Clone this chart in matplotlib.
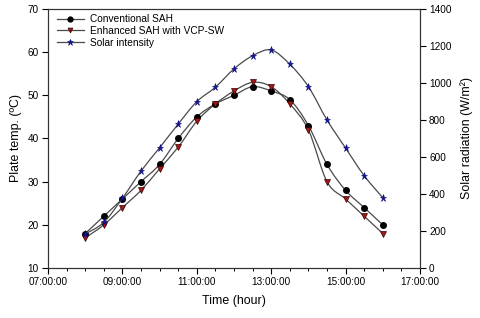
import numpy as np
import matplotlib
matplotlib.use('Agg')
import matplotlib.pyplot as plt
from matplotlib.path import Path
from matplotlib.patches import PathPatch
from matplotlib.lines import Line2D
from matplotlib.ticker import MultipleLocator, FixedLocator, FuncFormatter

plt.rcParams['font.family'] = ['Liberation Sans', 'DejaVu Sans']

# measurement times (every 30 min)
times = ["08:00", "08:30", "09:00", "09:30", "10:00", "10:30", "11:00", "11:30", "12:00",
         "12:30", "13:00", "13:30", "14:00", "14:30", "15:00", "15:30", "16:00"]
conv_sah = [18, 22, 26, 30, 34, 40, 45, 48, 50, 52, 51, 49, 43, 34, 28, 24, 20]
enh_sah = [17, 20, 24, 28, 33, 38, 44, 48, 51, 53, 52, 48, 42, 30, 26, 22, 18]
solar = [184, 247, 377, 524, 650, 778, 899, 977, 1076, 1147, 1178, 1101, 980, 800, 648, 499, 380]
xtick_hours = [7, 9, 11, 13, 15, 17]

hours = np.array([int(t[:2]) + int(t[3:]) / 60.0 for t in times])

LINE_COLOR = '#4a4a4a'


def smooth_path(x, y):
    # Catmull-Rom spline turned into cubic bezier segments (drawn by matplotlib's Path)
    x = np.asarray(x, float)
    y = np.asarray(y, float)
    verts = [(x[0], y[0])]
    codes = [Path.MOVETO]
    n = len(x)
    for i in range(n - 1):
        x0, y0 = (x[i - 1], y[i - 1]) if i > 0 else (x[i], y[i])
        x3, y3 = (x[i + 2], y[i + 2]) if i + 2 < n else (x[i + 1], y[i + 1])
        c1 = (x[i] + (x[i + 1] - x0) / 6.0, y[i] + (y[i + 1] - y0) / 6.0)
        c2 = (x[i + 1] - (x3 - x[i]) / 6.0, y[i + 1] - (y3 - y[i]) / 6.0)
        verts += [c1, c2, (x[i + 1], y[i + 1])]
        codes += [Path.CURVE4] * 3
    return Path(verts, codes)


fig = plt.figure(figsize=(4.8, 3.18), dpi=100)
ax = fig.add_axes([0.1, 0.157, 0.775, 0.815])
ax2 = ax.twinx()

# temperature curves
for vals in (conv_sah, enh_sah):
    ax.add_patch(PathPatch(smooth_path(hours, vals), fill=False, edgecolor=LINE_COLOR,
                           lw=0.9, zorder=2))
ax.plot(hours, conv_sah, ls='none', marker='o', ms=4, mfc='black', mec='black', zorder=3)
ax.plot(hours, enh_sah, ls='none', marker='v', ms=3.8, mfc='#a01818', mec='#3a0000',
        mew=0.5, zorder=4)

# solar intensity on the right axis
ax2.add_patch(PathPatch(smooth_path(hours, solar), fill=False, edgecolor=LINE_COLOR,
                        lw=0.9, zorder=2))
ax2.plot(hours, solar, ls='none', marker='*', ms=5.2, mfc='#1414a8', mec='#0a0a70',
         mew=0.4, zorder=3)

ax.set_xlim(7, 17)
ax.set_ylim(10, 70)
ax2.set_ylim(0, 1400)

ax.xaxis.set_major_locator(FixedLocator(xtick_hours))
ax.xaxis.set_minor_locator(MultipleLocator(0.5))
ax.xaxis.set_major_formatter(FuncFormatter(lambda v, p: "%02d:00:00" % int(round(v))))
ax.yaxis.set_major_locator(MultipleLocator(10))
ax2.yaxis.set_major_locator(MultipleLocator(200))

for a in (ax, ax2):
    a.tick_params(which='major', direction='out', length=4, width=0.8, labelsize=7.2,
                  pad=2.5)
    a.tick_params(which='minor', direction='out', length=2.5, width=0.7)
    for s in a.spines.values():
        s.set_linewidth(0.8)
        s.set_color('#333333')

ax.set_xlabel('Time (hour)', fontsize=8.9, labelpad=6)
ax.set_ylabel('Plate temp. (ºC)', fontsize=8.9, labelpad=4)
ax2.set_ylabel('Solar radiation (W/m²)', fontsize=8.9, labelpad=6)

handles = [
    Line2D([], [], color=LINE_COLOR, lw=0.9, marker='o', ms=3.5, mfc='black', mec='black'),
    Line2D([], [], color=LINE_COLOR, lw=0.9, marker='v', ms=3.5, mfc='#a01818', mec='#3a0000', mew=0.5),
    Line2D([], [], color=LINE_COLOR, lw=0.9, marker='*', ms=5, mfc='#1414a8', mec='#0a0a70', mew=0.4),
]
ax.legend(handles, ['Conventional SAH', 'Enhanced SAH with VCP-SW', 'Solar intensity'],
          loc='upper left', frameon=False, fontsize=7.3, handlelength=2.6,
          borderaxespad=0.15, labelspacing=0.15, handletextpad=0.6,
          bbox_to_anchor=(0.01, 1.0))

fig.savefig('out.png', dpi=100)
